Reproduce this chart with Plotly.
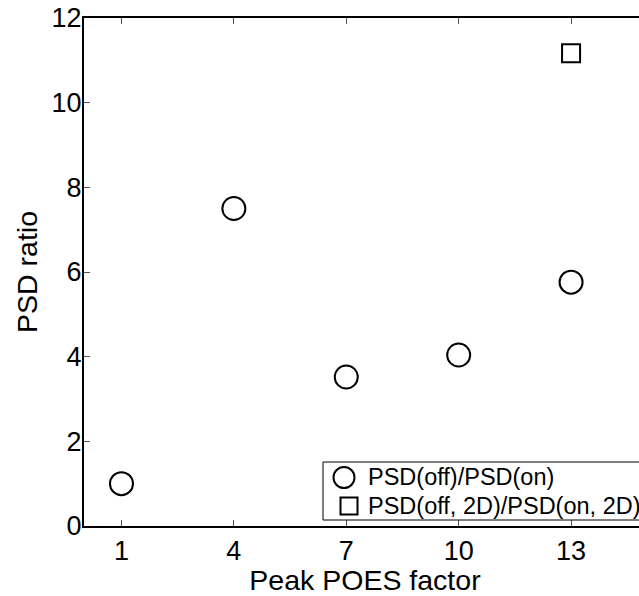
import plotly.graph_objects as go

peak_factor = [1, 4, 7, 10, 13]
psd_ratio = [1.0, 7.5, 3.52, 4.04, 5.76]
peak_factor_2d = [13]
psd_ratio_2d = [11.17]
x_ticks = [1, 4, 7, 10, 13]
y_ticks = [0, 2, 4, 6, 8, 10, 12]
legend_labels = ["PSD(off)/PSD(on)", "PSD(off, 2D)/PSD(on, 2D)"]

W, H = 700, 596
L, R_EDGE, T, B_EDGE = 84, 646, 18, 526


def px(xp):
    return (xp - L) / (R_EDGE - L)


def py(yp):
    return (B_EDGE - yp) / (B_EDGE - T)


fig = go.Figure()
fig.add_trace(go.Scatter(
    x=peak_factor, y=psd_ratio, mode="markers", name=legend_labels[0],
    marker=dict(symbol="circle-open", size=23, color="black", line=dict(width=2, color="black")),
    showlegend=False,
))
fig.add_trace(go.Scatter(
    x=peak_factor_2d, y=psd_ratio_2d, mode="markers", name=legend_labels[1],
    marker=dict(symbol="square-open", size=18, color="black", line=dict(width=2, color="black")),
    showlegend=False,
))

font = "Liberation Sans, Arial, Helvetica, sans-serif"

# legend box (drawn manually to match the compact original)
shapes = [
    dict(type="rect", xref="paper", yref="paper", x0=px(323), x1=px(720), y0=py(520), y1=py(462),
         line=dict(color="black", width=1), fillcolor="white", layer="above"),
    dict(type="circle", xref="paper", yref="paper", xsizemode="pixel", ysizemode="pixel",
         xanchor=px(344), yanchor=py(477.5), x0=-10.5, x1=10.5, y0=-10.5, y1=10.5,
         line=dict(color="black", width=2), layer="above"),
    dict(type="rect", xref="paper", yref="paper", xsizemode="pixel", ysizemode="pixel",
         xanchor=px(349), yanchor=py(506), x0=-8.5, x1=8.5, y0=-8.5, y1=8.5,
         line=dict(color="black", width=2), layer="above"),
]
annotations = [
    dict(text=legend_labels[0], xref="paper", yref="paper", x=px(366), y=py(477),
         xanchor="left", yanchor="middle", showarrow=False, font=dict(size=23.5, family=font)),
    dict(text=legend_labels[1], xref="paper", yref="paper", x=px(366), y=py(506),
         xanchor="left", yanchor="middle", showarrow=False, font=dict(size=23.5, family=font)),
]

fig.update_layout(
    width=W, height=H,
    margin=dict(l=L, r=W - R_EDGE, t=T, b=H - B_EDGE, autoexpand=False),
    paper_bgcolor="white", plot_bgcolor="white",
    font=dict(family=font, size=28, color="black"),
    showlegend=False,
    shapes=shapes, annotations=annotations,
)
fig.update_xaxes(
    range=[0, 15], tickvals=x_ticks, ticktext=[str(v) for v in x_ticks],
    showgrid=False, zeroline=False, showline=True, linecolor="black", linewidth=2,
    mirror="ticks", ticks="inside", ticklen=6, tickcolor="#555", tickwidth=1,
    title=dict(text="Peak POES factor", font=dict(size=28.5), standoff=2),
    tickfont=dict(size=27), automargin=True,
)
fig.update_yaxes(
    range=[0, 12], tickvals=y_ticks,
    showgrid=False, zeroline=False, showline=True, linecolor="black", linewidth=2,
    mirror="ticks", ticks="inside", ticklen=6, tickcolor="#555", tickwidth=1,
    title=dict(text="PSD ratio", font=dict(size=28.5), standoff=6),
    tickfont=dict(size=27), automargin=False, ticklabelstandoff=-5,
)

fig.write_html("out.html", post_script="document.body.style.overflow='hidden';document.body.style.margin='0';")
